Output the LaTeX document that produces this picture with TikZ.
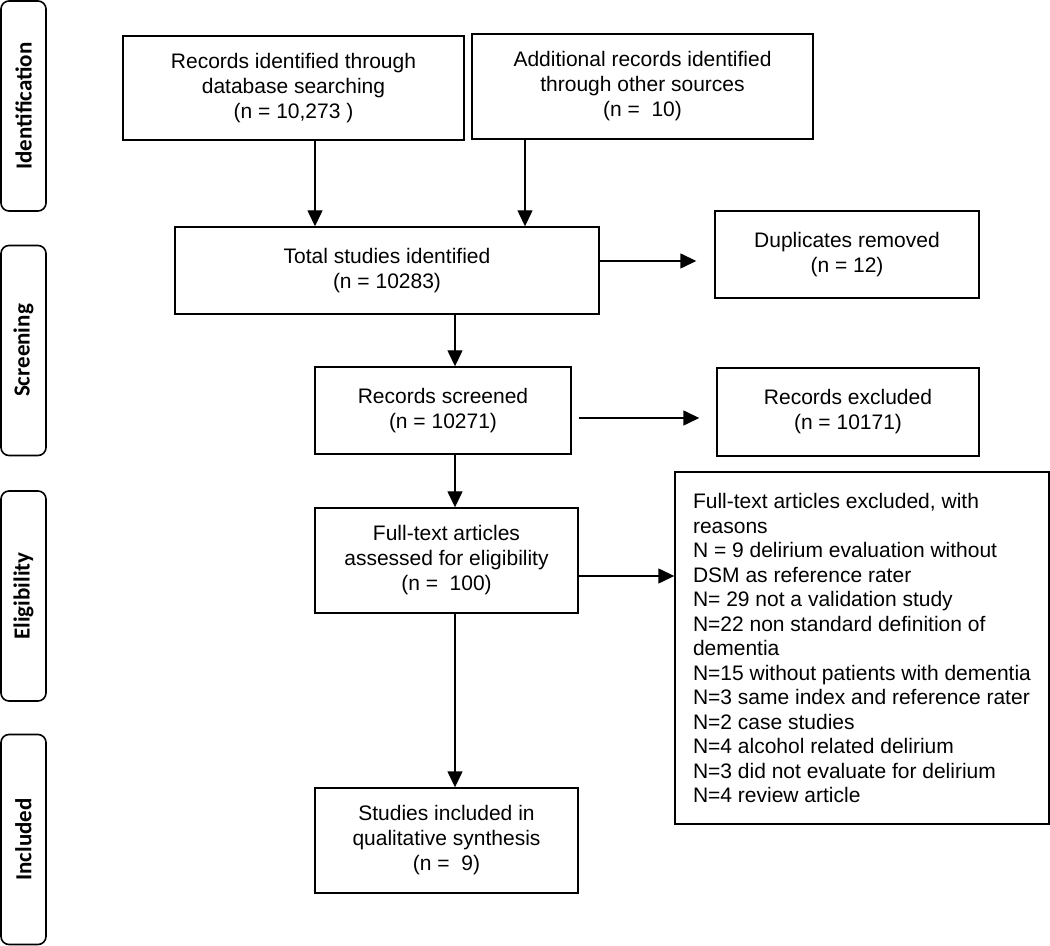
\documentclass[tikz,border=0pt]{standalone}
\usepackage{fontspec}
\setmainfont{Liberation Sans}
\newfontfamily\phasefont{Carlito}
\usetikzlibrary{arrows.meta}

\begin{document}
\begin{tikzpicture}[x=0.5pt, y=-0.5pt,
    box/.style={draw, line width=0.7pt, align=center, inner sep=0pt,
      font=\fontsize{10.5}{12.5}\selectfont},
    phase/.style={draw, line width=0.8pt, rounded corners=4pt, rotate=90,
      minimum width=105pt, minimum height=22.5pt, inner sep=0pt,
      font=\phasefont\bfseries\fontsize{11.5}{13}\selectfont},
    arr/.style={line width=0.7pt, -{Triangle[length=8pt,width=7.5pt]}}]
  \useasboundingbox (0,0) rectangle (1050,946);

  % Phase labels down the left side
  \node[phase] (ident)  at (23.5,106)   {Identification};
  \node[phase] (screen) at (23.5,350.5) {Screening};
  \node[phase] (elig)   at (23.5,596)   {Eligibility};
  \node[phase] (incl)   at (23.5,839.5) {Included};

  % Sources
  \node[box, minimum width=170.5pt, minimum height=52pt] (db) at (293.5,88)
    {Records identified through\\database searching\\(n = 10,273 )};
  \node[box, minimum width=170.5pt, minimum height=52.5pt] (other) at (642.5,86.5)
    {Additional records identified\\through other sources\\(n =\ \ 10)};

  % Main column
  \node[box, minimum width=212pt, minimum height=43.5pt] (total) at (387,270.5)
    {Total studies identified\\(n = 10283)};
  \node[box, minimum width=128pt, minimum height=43.5pt] (screened) at (443,410.5)
    {Records screened\\(n = 10271)};
  \node[box, minimum width=131.5pt, minimum height=52.5pt] (fulltext) at (446.5,560.5)
    {Full-text articles\\assessed for eligibility\\(n =\ \ 100)};
  \node[box, minimum width=131.5pt, minimum height=52.5pt] (studies) at (446.5,840.5)
    {Studies included in\\qualitative synthesis\\(n =\ \ 9)};

  % Exclusions on the right
  \node[box, minimum width=132pt, minimum height=43.5pt] (dup) at (847,254.5)
    {Duplicates removed\\(n = 12)};
  \node[box, minimum width=131pt, minimum height=44pt] (excl) at (848,412)
    {Records excluded\\(n = 10171)};
  \node[box, align=left, inner xsep=8pt, minimum width=187pt, minimum height=176pt,
    font=\fontsize{10.5}{12.25}\selectfont] (ftexcl) at (862,648)
    {Full-text articles excluded, with\\reasons\\N = 9 delirium evaluation without\\
     DSM as reference rater\\N= 29 not a validation study\\N=22 non standard definition of\\
     dementia\\N=15 without patients with dementia\\N=3 same index and reference rater\\
     N=2 case studies\\N=4 alcohol related delirium\\N=3 did not evaluate for delirium\\
     N=4 review article};

  % Arrow columns and rows
  \coordinate (c1) at (315,0);
  \coordinate (c2) at (525,0);
  \coordinate (c3) at (455,0);
  \coordinate (r1) at (0,261);
  \coordinate (r2) at (0,418);
  \coordinate (r3) at (0,576);

  \draw[arr] (db.south -| c1) -- (total.north -| c1);
  \draw[arr] (other.south -| c2) -- (total.north -| c2);
  \draw[arr] (total.south -| c3) -- (screened.north -| c3);
  \draw[arr] (screened.south -| c3) -- (fulltext.north -| c3);
  \draw[arr] (fulltext.south -| c3) -- (studies.north -| c3);
  \draw[arr, shorten >=9pt] (total.east |- r1) -- (dup.west |- r1);
  \draw[arr, shorten <=3.5pt, shorten >=8.5pt] (screened.east |- r2) -- (excl.west |- r2);
  \draw[arr] (fulltext.east |- r3) -- (ftexcl.west |- r3);
\end{tikzpicture}
\end{document}
